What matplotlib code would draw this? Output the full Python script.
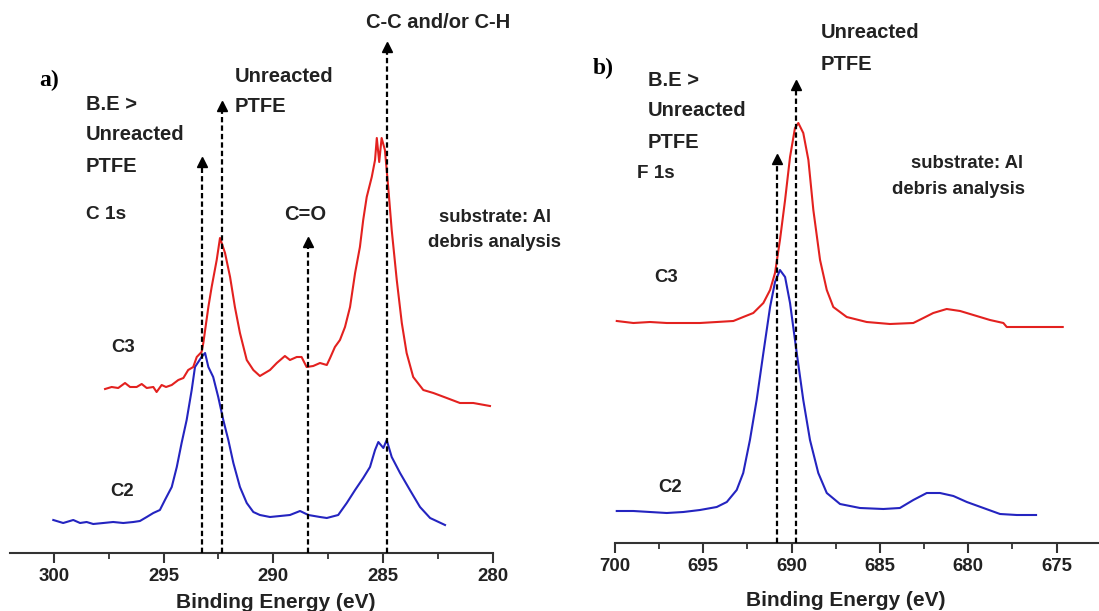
import matplotlib
matplotlib.use("Agg")
import matplotlib.pyplot as plt
from matplotlib.ticker import MultipleLocator

plt.rcParams['font.family'] = ['Liberation Sans', 'DejaVu Sans']

# ---------------- data (a) C 1s ----------------
c1s_c2_be = [300.03, 299.58, 299.12, 298.81, 298.51, 298.21, 297.75, 297.30, 296.84, 296.38,
             296.08, 295.77, 295.47, 295.17, 294.94, 294.63, 294.40, 294.18, 293.95, 293.72,
             293.57, 293.42, 293.27, 293.11, 292.96, 292.74, 292.51, 292.28, 292.05, 291.82,
             291.52, 291.21, 290.91, 290.61, 290.15, 289.69, 289.24, 288.78, 288.40, 287.87,
             287.56, 287.04, 286.65, 286.27, 285.90, 285.59, 285.36, 285.21, 284.98, 284.83,
             284.60, 284.22, 283.77, 283.31, 282.85, 282.17]
c1s_c2_int = [33, 30, 33, 30, 31, 29, 30, 31, 30, 31,
              32, 36, 40, 43, 53, 66, 86, 110, 133, 163,
              186, 191, 196, 200, 186, 176, 156, 133, 113, 90,
              66, 50, 41, 38, 36, 37, 38, 42, 38, 36,
              35, 38, 50, 63, 75, 86, 103, 111, 105, 113,
              96, 80, 63, 46, 35, 28]

c1s_c3_be = [297.67, 297.37, 297.07, 296.76, 296.53, 296.23, 296.00, 295.77, 295.47, 295.32,
             295.09, 294.89, 294.63, 294.33, 294.10, 293.88, 293.65, 293.49, 293.27, 293.19,
             292.96, 292.81, 292.58, 292.43, 292.20, 291.97, 291.75, 291.52, 291.21, 290.91,
             290.61, 290.15, 289.84, 289.47, 289.24, 288.93, 288.71, 288.48, 288.18, 287.87,
             287.56, 287.41, 287.19, 286.96, 286.73, 286.50, 286.27, 286.05, 285.90, 285.74,
             285.51, 285.36, 285.28, 285.17, 285.06, 284.91, 284.76, 284.60, 284.37, 284.14,
             283.92, 283.62, 283.16, 282.70, 282.09, 281.49, 280.88, 280.12]
c1s_c3_int = [164, 166, 165, 170, 166, 166, 169, 165, 166, 161,
              168, 166, 168, 173, 175, 183, 186, 196, 201, 210,
              246, 266, 293, 315, 300, 276, 246, 220, 193, 183,
              177, 183, 190, 197, 193, 196, 196, 186, 187, 190,
              188, 195, 206, 213, 226, 246, 280, 306, 333, 356,
              376, 393, 415, 391, 415, 403, 366, 323, 273, 230,
              200, 176, 163, 160, 155, 150, 150, 147]

c1s_marker_be = [293.25, 292.35, 288.43, 284.83]
c1s_marker_top = [395, 451, 315, 510]

# ---------------- data (b) F 1s ----------------
f1s_c2_be = [699.90, 698.96, 698.02, 697.07, 696.13, 695.19, 694.24, 693.67, 693.11, 692.74,
             692.36, 691.98, 691.60, 691.22, 690.94, 690.66, 690.37, 690.09, 689.71, 689.34,
             688.96, 688.49, 688.01, 687.26, 686.13, 684.81, 683.87, 683.11, 682.35, 681.60,
             680.84, 680.08, 679.14, 678.20, 677.25, 676.16]
f1s_c2_int = [32, 32, 31, 30, 31, 33, 36, 41, 53, 70,
              103, 143, 190, 236, 261, 273, 266, 240, 190, 143,
              103, 70, 50, 39, 35, 34, 35, 43, 50, 50,
              47, 41, 35, 29, 28, 28]

f1s_c3_be = [699.90, 698.96, 698.02, 697.07, 696.13, 695.19, 694.24, 693.30, 692.74, 692.17,
             691.60, 691.22, 690.94, 690.66, 690.37, 690.09, 689.81, 689.62, 689.34, 689.05,
             688.77, 688.39, 688.01, 687.64, 686.88, 685.75, 684.43, 683.11, 682.54, 681.98,
             681.22, 680.46, 679.71, 678.77, 678.01, 677.82, 676.69, 675.56, 674.65]
f1s_c3_int = [222, 220, 221, 220, 220, 220, 221, 222, 226, 230,
              240, 253, 270, 303, 343, 386, 415, 420, 410, 383,
              333, 283, 253, 236, 226, 221, 219, 220, 225, 230,
              234, 232, 228, 223, 220, 216, 216, 216, 216]

f1s_marker_be = [690.84, 689.75]
f1s_marker_top = [388, 462]

ticks_a = [300, 295, 290, 285, 280]
ticks_b = [700, 695, 690, 685, 680, 675]

# ---------------- figure ----------------
W, H = 1099, 611
fig = plt.figure(figsize=(W / 100, H / 100), dpi=100)

TXT = '#222222'
RED = '#e3211f'
BLUE = '#2424c0'


def px_axes(x0, x1, ybot):
    return fig.add_axes([x0 / W, (H - ybot) / H, (x1 - x0) / W, ybot / H])


def ftext(x, y, s, size=14.5, ha='left', **kw):
    fig.text(x / W, 1 - y / H, s, ha=ha, va='center', fontsize=size,
             fontweight='bold', color=TXT, **kw)


def style_axis(ax, ticks, xlim, ylim):
    ax.set_xlim(*xlim)
    ax.set_ylim(*ylim)
    ax.patch.set_alpha(0)
    for s in ['left', 'right', 'top']:
        ax.spines[s].set_visible(False)
    ax.spines['bottom'].set_linewidth(1.5)
    ax.spines['bottom'].set_color('#333333')
    ax.set_yticks([])
    ax.set_xticks(ticks)
    ax.xaxis.set_minor_locator(MultipleLocator(2.5))
    ax.tick_params(axis='x', which='major', length=7, width=1.5, color='#333333',
                   labelsize=13.4, labelcolor=TXT, pad=4)
    ax.tick_params(axis='x', which='minor', length=4, width=1.3, color='#333333')
    for lab in ax.get_xticklabels():
        lab.set_fontweight('bold')


def markers(ax, xs, tops):
    for x, t in zip(xs, tops):
        ax.plot([x, x], [0, t - 6], color='black', lw=1.6,
                linestyle=(0, (2.4, 1.4)), zorder=4)
        ax.plot([x], [t - 4], marker='^', ms=7, color='black', mec='black',
                zorder=5, linestyle='none')


# panel a
axa = px_axes(10.1, 492.6, 553)
style_axis(axa, ticks_a, (302, 280), (0, 553))
axa.plot(c1s_c2_be, c1s_c2_int, color=BLUE, lw=1.5, zorder=3)
axa.plot(c1s_c3_be, c1s_c3_int, color=RED, lw=1.5, zorder=3)
markers(axa, c1s_marker_be, c1s_marker_top)

# panel b
axb = px_axes(615, 1100.7, 543)
style_axis(axb, ticks_b, (700, 672.5), (0, 543))
axb.plot(f1s_c2_be, f1s_c2_int, color=BLUE, lw=1.5, zorder=3)
axb.plot(f1s_c3_be, f1s_c3_int, color=RED, lw=1.5, zorder=3)
markers(axb, f1s_marker_be, f1s_marker_top)

# ---------------- text panel a ----------------
fig.text(39 / W, 1 - 80 / H, 'a)', ha='left', va='center', fontsize=17,
         fontweight='bold', family='Liberation Serif', color='black')
ftext(86, 104, 'B.E >')
ftext(86, 135, 'Unreacted')
ftext(86, 166, 'PTFE')
ftext(235, 76, 'Unreacted')
ftext(235, 107, 'PTFE')
ftext(438, 22, 'C-C and/or C-H', ha='center')
ftext(86, 214, 'C 1s', size=13.7)
ftext(305, 215, 'C=O', ha='center')
ftext(495, 218, 'substrate: Al', size=13.3, ha='center')
ftext(495, 242, 'debris analysis', size=13.3, ha='center')
ftext(111, 347, 'C3', size=13.3)
ftext(110, 492, 'C2', size=13.3)
ftext(276, 602, 'Binding Energy (eV)', size=15, ha='center')

# ---------------- text panel b ----------------
fig.text(593 / W, 1 - 68 / H, 'b)', ha='left', va='center', fontsize=17,
         fontweight='bold', family='Liberation Serif', color='black')
ftext(648, 80, 'B.E >')
ftext(648, 110, 'Unreacted')
ftext(648, 142, 'PTFE')
ftext(637, 174, 'F 1s', size=13.6)
ftext(821, 33, 'Unreacted')
ftext(821, 65, 'PTFE')
ftext(1023, 163, 'substrate: Al', size=13.3, ha='right')
ftext(1025, 189, 'debris analysis', size=13.3, ha='right')
ftext(654, 278, 'C3', size=13.3)
ftext(658, 488, 'C2', size=13.3)
ftext(846, 601, 'Binding Energy (eV)', size=15, ha='center')

fig.savefig('out.png', dpi=100)
